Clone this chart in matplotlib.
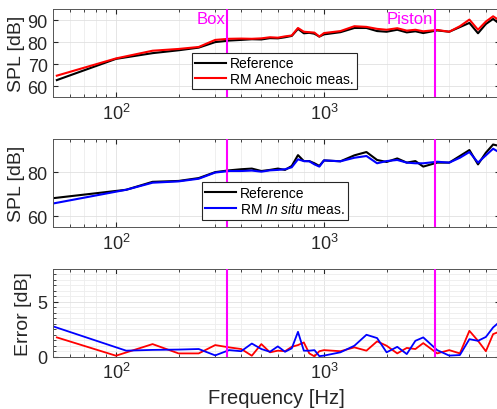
import matplotlib
matplotlib.use("Agg")
import matplotlib.pyplot as plt
from matplotlib.ticker import LogLocator, NullFormatter, FixedLocator, MultipleLocator

plt.rcParams['font.family'] = ['Liberation Sans', 'DejaVu Sans']
plt.rcParams['mathtext.fontset'] = 'custom'
plt.rcParams['mathtext.rm'] = 'Liberation Sans'
plt.rcParams['mathtext.it'] = 'Liberation Sans:italic'

# ---------------- data ----------------
f_anech = [52, 100, 150, 200, 250, 300, 350, 400, 450, 500, 550, 600, 650, 700, 750, 800, 850,
           900, 950, 1000, 1200, 1400, 1600, 1800, 2000, 2250, 2500, 2750, 3000, 3500, 4000,
           4500, 5000, 5500, 6000, 6500, 7000]
ref_anech = [62.8, 72.4, 75.0, 76.3, 77.5, 80.0, 80.7, 81.0, 81.3, 81.2, 81.8, 81.7, 82.2, 82.8,
             86.0, 84.0, 84.2, 83.8, 82.5, 83.5, 84.5, 86.4, 86.4, 85.0, 84.7, 85.6, 84.4, 84.9,
             84.1, 85.3, 84.7, 86.8, 88.7, 84.0, 88.2, 90.5, 88.2]
rm_anech = [64.8, 72.6, 76.1, 76.9, 77.8, 81.0, 81.5, 81.6, 81.5, 81.7, 82.2, 82.0, 82.6, 83.0,
            86.4, 84.7, 84.5, 84.3, 82.5, 84.1, 85.0, 87.2, 86.9, 86.0, 85.6, 86.3, 85.2, 85.6,
            84.9, 85.5, 84.7, 87.2, 90.2, 85.6, 89.3, 91.7, 89.7]
err_anech = [1.76, 0.09, 1.15, 0.3, 0.3, 1.06, 0.85, 0.7, 0.09, 1.15, 0.4, 0.55, 0.5, 0.9, 1.06,
             1.3, 0.3, 0.03, 0.5, 0.6, 0.5, 0.85, 0.55, 1.4, 1.0, 0.3, 0.8, 0.7, 1.24, 0.3,
             0.6, 0.3, 2.36, 1.45, 0.5, 2.06, 2.3]

f_insitu = [50, 112, 150, 200, 250, 300, 350, 400, 450, 500, 550, 600, 650, 700, 750, 800, 850,
            900, 950, 1000, 1200, 1400, 1600, 1800, 2000, 2250, 2500, 2750, 3000, 3500, 4000,
            4500, 5000, 5500, 6000, 6500, 7000]
ref_insitu = [68.2, 72.0, 75.6, 76.0, 77.3, 80.0, 80.8, 81.3, 81.6, 80.5, 81.0, 81.6, 81.0, 82.8,
              87.7, 85.0, 85.0, 84.0, 82.8, 85.3, 84.9, 87.6, 89.1, 85.5, 84.6, 86.2, 84.3, 85.0,
              82.5, 84.3, 84.3, 87.3, 90.0, 83.5, 88.8, 92.5, 91.8]
rm_insitu = [65.8, 72.0, 75.2, 75.8, 77.0, 79.8, 80.5, 80.5, 80.7, 80.2, 80.8, 81.0, 81.3, 82.2,
             85.8, 85.0, 84.9, 83.5, 82.5, 85.3, 84.9, 86.5, 87.3, 84.0, 85.0, 85.5, 84.3, 84.0,
             84.0, 84.7, 84.3, 86.5, 89.1, 84.3, 87.6, 90.6, 88.8]
err_insitu = [2.76, 0.55, 0.62, 0.65, 0.7, 0.12, 0.6, 0.5, 1.2, 0.7, 0.45, 0.94, 0.45, 0.76, 2.27,
              0.55, 0.55, 0.6, 0.05, 0.1, 0.4, 1.0, 2.0, 1.7, 0.4, 0.9, 0.24, 1.45, 1.76, 0.6,
              0.1, 0.15, 1.6, 1.45, 1.8, 2.67, 3.2]

f_box = 340
f_piston = 3400
markers = [("Box", f_box), ("Piston", f_piston)]

# ---------------- figure ----------------
W, H = 497, 410
fig = plt.figure(figsize=(W / 100, H / 100), dpi=100)

left = 53.3 / W
width = 446.5 / W
def pos(top, bottom):
    return [left, 1 - bottom / H, width, (bottom - top) / H]

ax1 = fig.add_axes(pos(10, 98.3))
ax2 = fig.add_axes(pos(140, 228.3))
ax3 = fig.add_axes(pos(270, 357.7))

axcol = '#262626'
magenta = '#FF00FF'

def style(ax):
    ax.set_xscale('log')
    ax.set_xlim(50, 7000)
    ax.xaxis.set_major_locator(FixedLocator([100, 1000]))
    ax.xaxis.set_minor_locator(LogLocator(base=10, subs=range(2, 10)))
    ax.xaxis.set_minor_formatter(NullFormatter())
    ax.set_xticklabels([r'$10^2$', r'$10^3$'])
    ax.grid(True, which='major', color='#e0e0e0', lw=0.6)
    ax.grid(True, which='minor', axis='x', color='#ededed', lw=0.6)
    ax.set_axisbelow(True)
    ax.tick_params(which='both', direction='in', colors=axcol, labelsize=13,
                   top=True, right=True)
    ax.tick_params(which='major', length=3.5, pad=4)
    ax.tick_params(which='minor', length=2)
    for s in ax.spines.values():
        s.set_color('#555555')
        s.set_linewidth(0.7)
    for name, f in markers:
        ax.axvline(f, color=magenta, lw=1.5, zorder=5)

for ax in (ax1, ax2, ax3):
    style(ax)

# Top: anechoic
ax1.plot(f_anech, ref_anech, color='black', lw=1.5, label='Reference')
ax1.plot(f_anech, rm_anech, color='red', lw=1.5, label='RM Anechoic meas.')
ax1.set_ylim(55, 95)
ax1.set_yticks([60, 70, 80, 90])
ax1.set_ylabel('SPL [dB]', fontsize=14, color=axcol, labelpad=2)
for name, f in markers:
    ax1.text(f / 1.015, 94.2, name, color=magenta, fontsize=12, ha='right', va='top')
ax1.legend(loc='upper left', bbox_to_anchor=(191.7 / W, 1 - 54 / H),
           bbox_transform=fig.transFigure, fontsize=10, frameon=True, fancybox=False,
           edgecolor=axcol, framealpha=1, borderpad=0.25, labelspacing=0.1,
           handlelength=2.2, handletextpad=0.3, borderaxespad=0).get_frame().set_linewidth(0.8)

# Middle: in situ
ax2.plot(f_insitu, ref_insitu, color='black', lw=1.5, label='Reference')
ax2.plot(f_insitu, rm_insitu, color='blue', lw=1.5, label=r'RM $\mathit{In\ situ}$ meas.')
ax2.set_ylim(55, 95)
ax2.set_yticks([60, 80])
ax2.set_ylabel('SPL [dB]', fontsize=14, color=axcol, labelpad=2)
ax2.legend(loc='upper left', bbox_to_anchor=(201.7 / W, 1 - 183.3 / H),
           bbox_transform=fig.transFigure, fontsize=10, frameon=True, fancybox=False,
           edgecolor=axcol, framealpha=1, borderpad=0.25, labelspacing=0.1,
           handlelength=2.2, handletextpad=0.3, borderaxespad=0).get_frame().set_linewidth(0.8)

# Bottom: error
ax3.plot(f_anech, err_anech, color='red', lw=1.3)
ax3.plot(f_insitu, err_insitu, color='blue', lw=1.3)
ax3.set_ylim(0, 8)
ax3.set_yticks([0, 5])
ax3.yaxis.set_minor_locator(MultipleLocator(0.5))
ax3.grid(True, which='minor', axis='y', color='#ededed', lw=0.6)
ax3.set_ylabel('Error [dB]', fontsize=14, color=axcol, labelpad=4)
ax3.set_xlabel('Frequency [Hz]', fontsize=14.5, color=axcol, labelpad=4)

fig.savefig('out.png', dpi=100)
